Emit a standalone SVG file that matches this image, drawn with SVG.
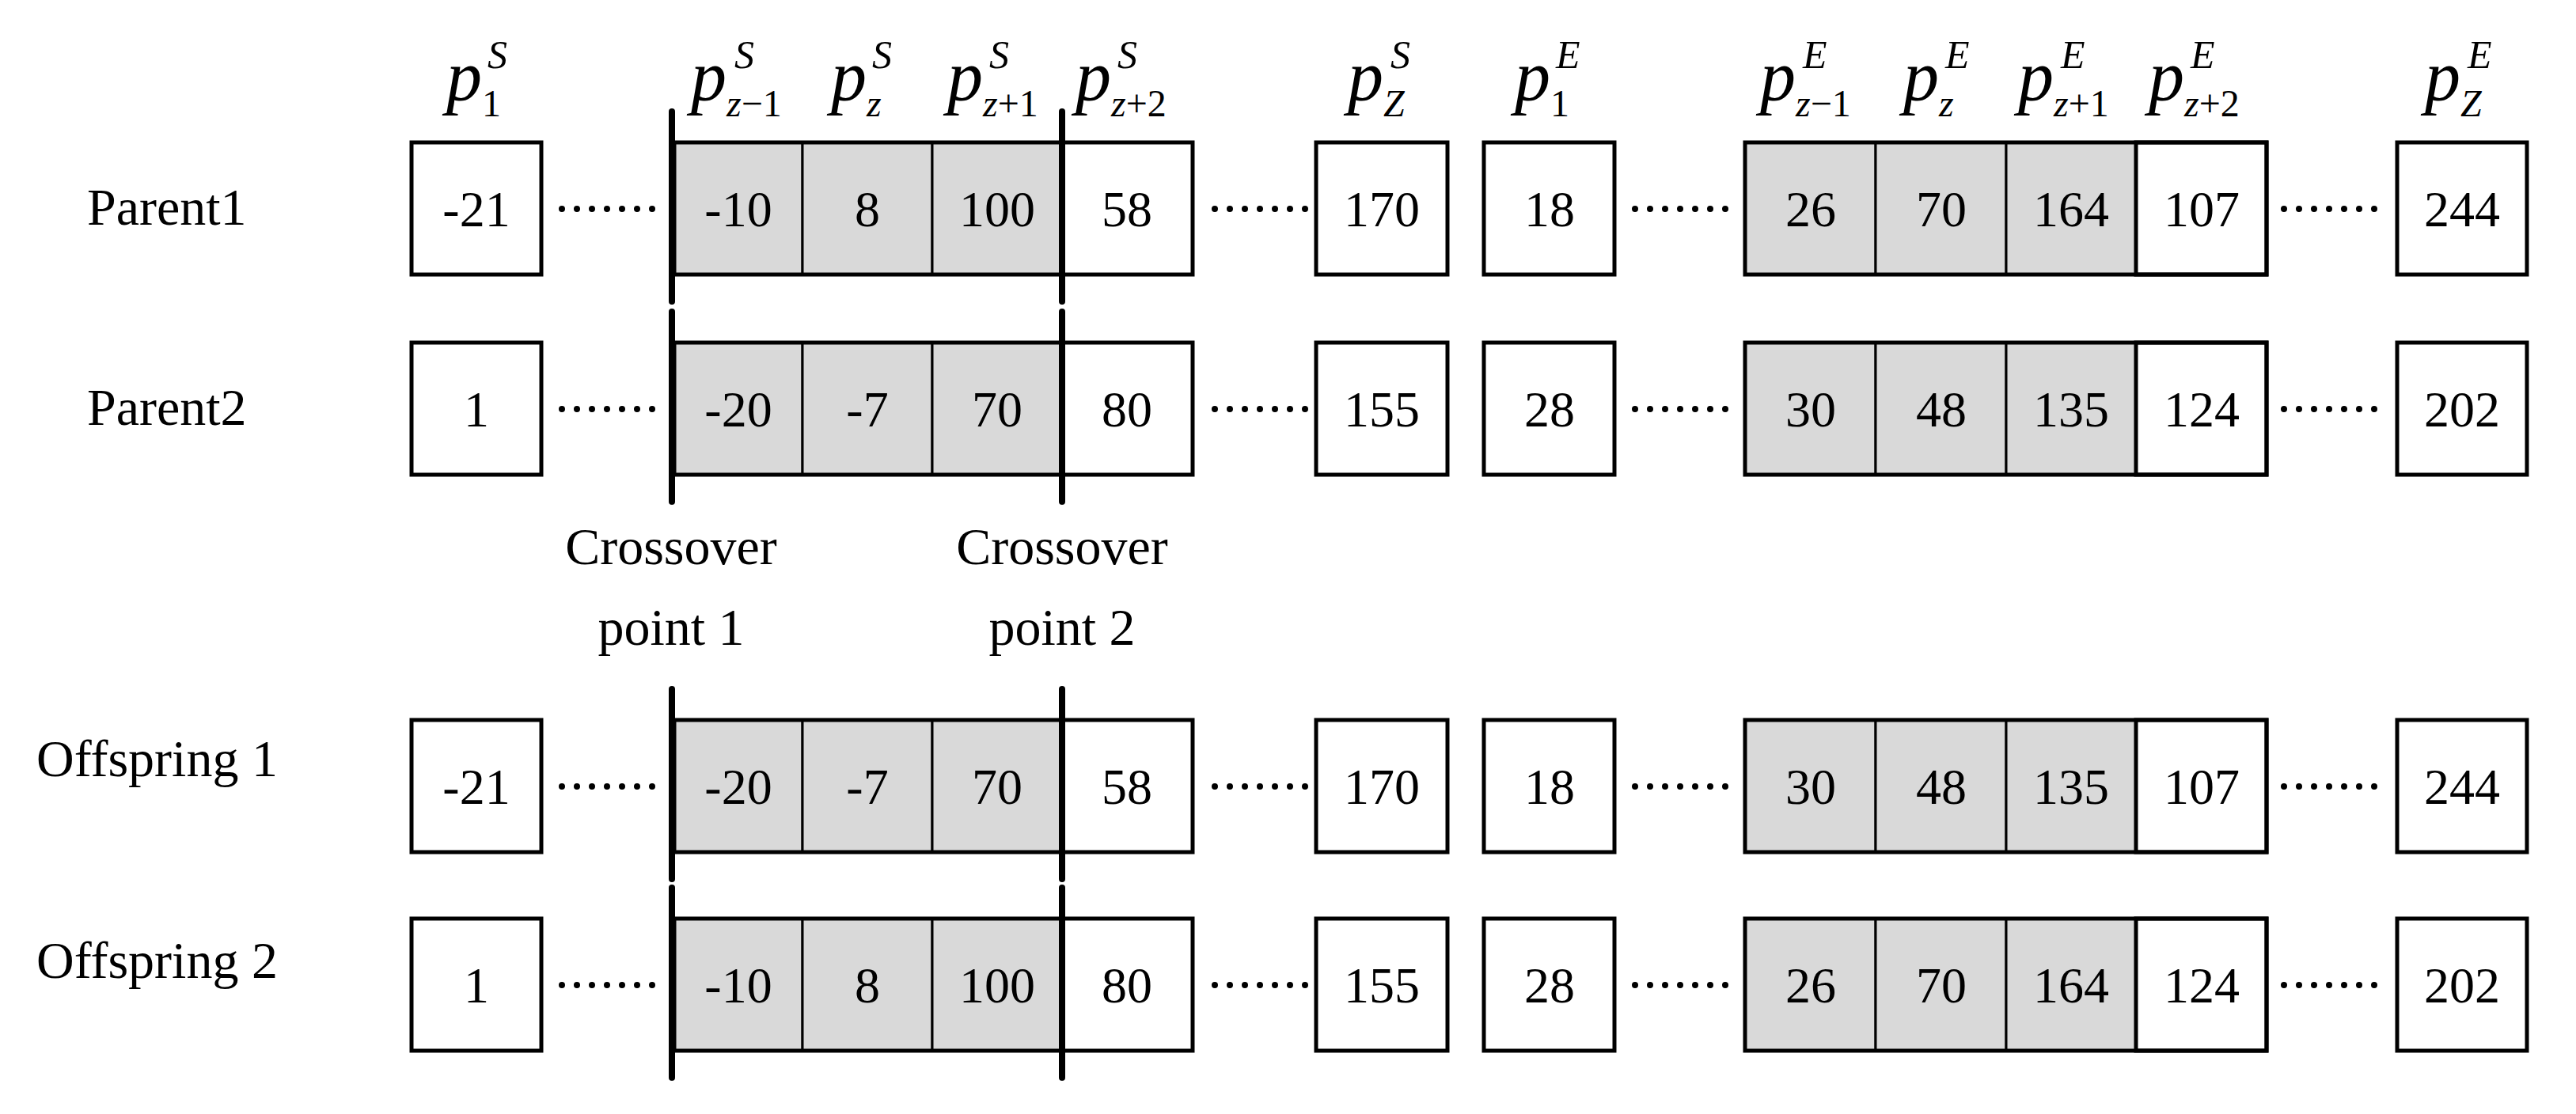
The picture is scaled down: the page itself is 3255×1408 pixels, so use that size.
<svg xmlns="http://www.w3.org/2000/svg" width="3255" height="1408" viewBox="0 0 3255 1408">
<style>
text{font-family:"Liberation Serif","Times New Roman",serif;fill:#000}
.n{font-size:64px;text-anchor:middle}
.l{font-size:66px}
.c{font-size:66px;text-anchor:middle}
.w{fill:#fff;stroke:#000;stroke-width:5}
.g{fill:#d9d9d9;stroke:#000;stroke-width:3}
.gb{fill:none;stroke:#000;stroke-width:5}
.d{stroke:#000;stroke-width:8;stroke-linecap:round;stroke-dasharray:0 19}
.x{stroke:#000;stroke-width:8;stroke-linecap:round}
.p{font-size:90px;font-style:italic}
.sb{font-size:48px}
.sp{font-size:50px;font-style:italic}
.i{font-style:italic}
</style>
<defs>
<g id="row">
<rect class="w" x="520" y="0" width="164" height="167"/>
<rect class="g" x="852" y="0" width="162" height="167"/>
<rect class="g" x="1014" y="0" width="164" height="167"/>
<rect class="g" x="1178" y="0" width="163" height="167"/>
<rect class="w" x="1341" y="0" width="166" height="167"/>
<rect class="gb" x="852" y="0" width="489" height="167"/>
<rect class="w" x="1663" y="0" width="166" height="167"/>
<rect class="w" x="1875" y="0" width="165" height="167"/>
<rect class="g" x="2205" y="0" width="165" height="167"/>
<rect class="g" x="2370" y="0" width="165" height="167"/>
<rect class="g" x="2535" y="0" width="164" height="167"/>
<rect class="w" x="2699" y="0" width="165" height="167"/>
<rect class="gb" x="2205" y="0" width="659" height="167"/>
<rect class="w" x="3029" y="0" width="164" height="167"/>
<line class="d" x1="710" y1="84" x2="826" y2="84"/>
<line class="d" x1="1535" y1="84" x2="1651" y2="84"/>
<line class="d" x1="2066" y1="84" x2="2182" y2="84"/>
<line class="d" x1="2886" y1="84" x2="3002" y2="84"/>
<line class="x" x1="849" y1="-39" x2="849" y2="201"/>
<line class="x" x1="1342" y1="-39" x2="1342" y2="201"/>
</g>
</defs>
<g id="headers">
<text x="564" y="127"><tspan class="p">p</tspan><tspan class="sb" dy="20">1</tspan></text><text class="sp" x="616" y="86">S</text>
<text x="873" y="127"><tspan class="p">p</tspan><tspan class="sb i" dy="20">z</tspan><tspan class="sb">−1</tspan></text><text class="sp" x="928" y="86">S</text>
<text x="1050" y="127"><tspan class="p">p</tspan><tspan class="sb i" dy="20">z</tspan></text><text class="sp" x="1102" y="86">S</text>
<text x="1197" y="127"><tspan class="p">p</tspan><tspan class="sb i" dy="20">z</tspan><tspan class="sb">+1</tspan></text><text class="sp" x="1250" y="86">S</text>
<text x="1359" y="127"><tspan class="p">p</tspan><tspan class="sb i" dy="20">z</tspan><tspan class="sb">+2</tspan></text><text class="sp" x="1412" y="86">S</text>
<text x="1703" y="127"><tspan class="p">p</tspan><tspan class="sb i" dy="20">Z</tspan></text><text class="sp" x="1757" y="86">S</text>
<text x="1914" y="127"><tspan class="p">p</tspan><tspan class="sb" dy="20">1</tspan></text><text class="sp" x="1966" y="86">E</text>
<text x="2224" y="127"><tspan class="p">p</tspan><tspan class="sb i" dy="20">z</tspan><tspan class="sb">−1</tspan></text><text class="sp" x="2278" y="86">E</text>
<text x="2405" y="127"><tspan class="p">p</tspan><tspan class="sb i" dy="20">z</tspan></text><text class="sp" x="2458" y="86">E</text>
<text x="2550" y="127"><tspan class="p">p</tspan><tspan class="sb i" dy="20">z</tspan><tspan class="sb">+1</tspan></text><text class="sp" x="2604" y="86">E</text>
<text x="2715" y="127"><tspan class="p">p</tspan><tspan class="sb i" dy="20">z</tspan><tspan class="sb">+2</tspan></text><text class="sp" x="2768" y="86">E</text>
<text x="3064" y="127"><tspan class="p">p</tspan><tspan class="sb i" dy="20">Z</tspan></text><text class="sp" x="3118" y="86">E</text>
</g>
<g id="parent1">
<use href="#row" y="180"/>
<text class="l" x="110" y="284">Parent1</text>
<g transform="translate(0,286)">
<text class="n" x="602">-21</text><text class="n" x="933">-10</text><text class="n" x="1096">8</text><text class="n" x="1260">100</text><text class="n" x="1424">58</text><text class="n" x="1746">170</text><text class="n" x="1958">18</text><text class="n" x="2288">26</text><text class="n" x="2453">70</text><text class="n" x="2617">164</text><text class="n" x="2782">107</text><text class="n" x="3111">244</text>
</g>
</g>
<g id="parent2">
<use href="#row" y="433"/>
<text class="l" x="110" y="537">Parent2</text>
<g transform="translate(0,539)">
<text class="n" x="602">1</text><text class="n" x="933">-20</text><text class="n" x="1096">-7</text><text class="n" x="1260">70</text><text class="n" x="1424">80</text><text class="n" x="1746">155</text><text class="n" x="1958">28</text><text class="n" x="2288">30</text><text class="n" x="2453">48</text><text class="n" x="2617">135</text><text class="n" x="2782">124</text><text class="n" x="3111">202</text>
</g>
</g>
<g id="crossover-labels">
<text class="c" x="848" y="713">Crossover</text><text class="c" x="848" y="815">point 1</text>
<text class="c" x="1342" y="713">Crossover</text><text class="c" x="1342" y="815">point 2</text>
</g>
<g id="offspring1">
<use href="#row" y="910"/>
<text class="l" x="46" y="981">Offspring 1</text>
<g transform="translate(0,1016)">
<text class="n" x="602">-21</text><text class="n" x="933">-20</text><text class="n" x="1096">-7</text><text class="n" x="1260">70</text><text class="n" x="1424">58</text><text class="n" x="1746">170</text><text class="n" x="1958">18</text><text class="n" x="2288">30</text><text class="n" x="2453">48</text><text class="n" x="2617">135</text><text class="n" x="2782">107</text><text class="n" x="3111">244</text>
</g>
</g>
<g id="offspring2">
<use href="#row" y="1161"/>
<text class="l" x="46" y="1236">Offspring 2</text>
<g transform="translate(0,1267)">
<text class="n" x="602">1</text><text class="n" x="933">-10</text><text class="n" x="1096">8</text><text class="n" x="1260">100</text><text class="n" x="1424">80</text><text class="n" x="1746">155</text><text class="n" x="1958">28</text><text class="n" x="2288">26</text><text class="n" x="2453">70</text><text class="n" x="2617">164</text><text class="n" x="2782">124</text><text class="n" x="3111">202</text>
</g>
</g>
</svg>
